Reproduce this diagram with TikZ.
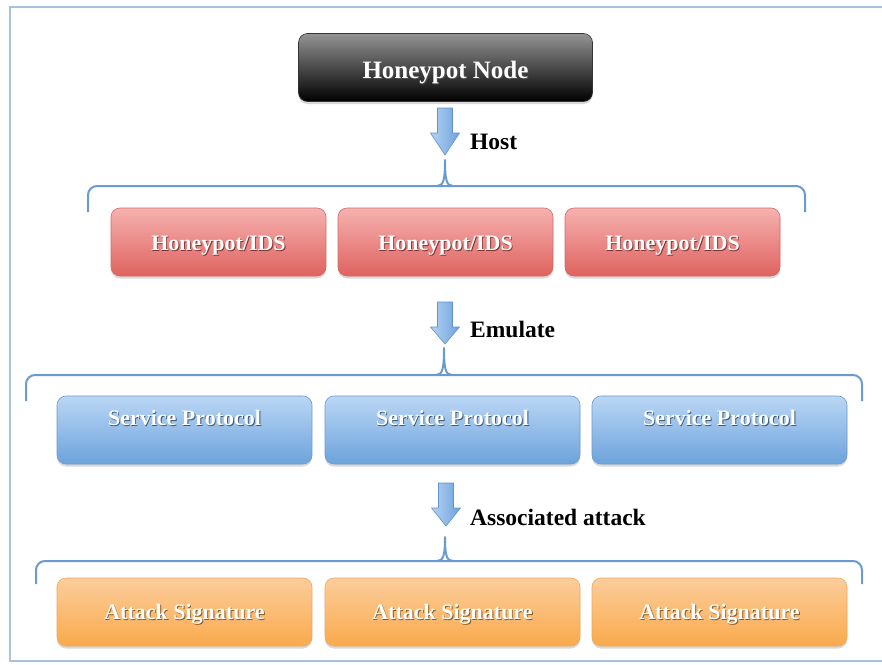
\documentclass[tikz,border=0pt]{standalone}
\usepackage{fontspec}
\setmainfont{Liberation Serif}
\usetikzlibrary{shadows}
\definecolor{frameC}{HTML}{A9C1DE}
\definecolor{braceC}{HTML}{6B9AD0}
\definecolor{redTop}{HTML}{F6B2B0}
\definecolor{redBot}{HTML}{DF625E}
\definecolor{redEdge}{HTML}{D26A66}
\definecolor{bluTop}{HTML}{BBD6F5}
\definecolor{bluBot}{HTML}{6CA3DC}
\definecolor{bluEdge}{HTML}{6A9BD2}
\definecolor{oraTop}{HTML}{FCCD9C}
\definecolor{oraBot}{HTML}{F9AA4C}
\definecolor{oraEdge}{HTML}{F0A85A}
\definecolor{arrL}{HTML}{B4D2F3}
\definecolor{arrR}{HTML}{6EA2DC}
\definecolor{arrEdge}{HTML}{5F93CF}
\newcommand\shtxt[2]{\makebox[0pt][l]{\hspace{0.9pt}\raisebox{-1pt}{\color{#1}#2}}#2}
\tikzset{
  box/.style={rounded corners=9pt, inner sep=0pt, text=white,
    font=\bfseries\fontsize{22}{26}\selectfont,
    drop shadow={opacity=0.3, shadow xshift=0pt, shadow yshift=-2.5pt}},
  redbox/.style={box, minimum width=215pt, minimum height=68pt,
    text height=20pt, text depth=4pt,
    top color=redTop, bottom color=redBot, draw=redEdge, line width=0.6pt},
  blubox/.style={box, minimum width=255pt, minimum height=68pt,
    text height=20pt, text depth=29pt,
    top color=bluTop, bottom color=bluBot, draw=bluEdge, line width=0.6pt},
  orabox/.style={box, minimum width=255pt, minimum height=68pt,
    text height=20pt, text depth=5pt,
    top color=oraTop, bottom color=oraBot, draw=oraEdge, line width=0.6pt},
  blackbox/.style={box, minimum width=294pt, minimum height=68pt,
    text height=26pt, text depth=5pt,
    font=\bfseries\fontsize{25}{30}\selectfont,
    top color=black!42, bottom color=black, draw=black!80, line width=0.6pt},
  lbl/.style={anchor=west, inner sep=0pt, font=\bfseries\fontsize{23.5}{28}\selectfont},
  bracestyle/.style={draw=braceC, line width=2pt, rounded corners=9pt},
  cuspstyle/.style={draw=braceC, line width=2pt, line join=round},
  blockarr/.style={left color=arrL, right color=arrR, draw=arrEdge, line width=0.6pt}
}
% #1 center x, #2 top, #3 head start, #4 tip
\newcommand\myblockarrow[4]{%
  \path[blockarr] (#1-7.5,#2) -- (#1+7.5,#2) -- (#1+7.5,#3) -- (#1+14.5,#3)
    -- (#1,#4) -- (#1-14.5,#3) -- (#1-7.5,#3) -- cycle;}
% #1 left x, #2 right x, #3 line y, #4 bottom y, #5 cusp x, #6 cusp top
\newcommand\mybrace[6]{%
  \draw[bracestyle] (#1,#4) -- (#1,#3) -- (#2,#3) -- (#2,#4);
  \draw[cuspstyle] (#5-8,#3) .. controls (#5-1.5,#3) and (#5,#3-6) .. (#5,#6)
    .. controls (#5,#3-6) and (#5+1.5,#3) .. (#5+8,#3);}
\begin{document}
\begin{tikzpicture}[x=1pt,y=-1pt]
\useasboundingbox (0,0) rectangle (882,664);
\fill[white] (0,0) rectangle (882,664);
% frame
\draw[frameC, line width=1.2pt] (882,7) -- (10,7) -- (10,661) -- (882,661);

% top node
\node[blackbox] (hn) at (445.5,67.5) {\shtxt{black!70}{Honeypot Node}};

% level arrows and labels
\myblockarrow{445}{108}{133}{155}
\node[lbl] (host) at (470,142) {Host};
\mybrace{88}{805}{186}{212}{445}{160}

\node[redbox] (r1) at (218.5,242) {\shtxt{redBot!55!black}{Honeypot/IDS}};
\node[redbox] (r2) at (445.5,242) {\shtxt{redBot!55!black}{Honeypot/IDS}};
\node[redbox] (r3) at (672.5,242) {\shtxt{redBot!55!black}{Honeypot/IDS}};

\myblockarrow{445}{302}{327}{344}
\node[lbl] (emu) at (470,329) {Emulate};
\mybrace{26}{862}{375}{401}{444}{348}

\node[blubox] (b1) at (184.5,430) {\shtxt{bluBot!55!black}{Service Protocol}};
\node[blubox] (b2) at (452.5,430) {\shtxt{bluBot!55!black}{Service Protocol}};
\node[blubox] (b3) at (719.5,430) {\shtxt{bluBot!55!black}{Service Protocol}};

\myblockarrow{446}{483}{508}{526}
\node[lbl] (assoc) at (470,517) {Associated attack};
\mybrace{36}{862}{561}{584}{445}{537}

\node[orabox] (o1) at (184.5,612) {\shtxt{oraBot!55!black}{Attack Signature}};
\node[orabox] (o2) at (452.5,612) {\shtxt{oraBot!55!black}{Attack Signature}};
\node[orabox] (o3) at (719.5,612) {\shtxt{oraBot!55!black}{Attack Signature}};
\end{tikzpicture}
\end{document}
